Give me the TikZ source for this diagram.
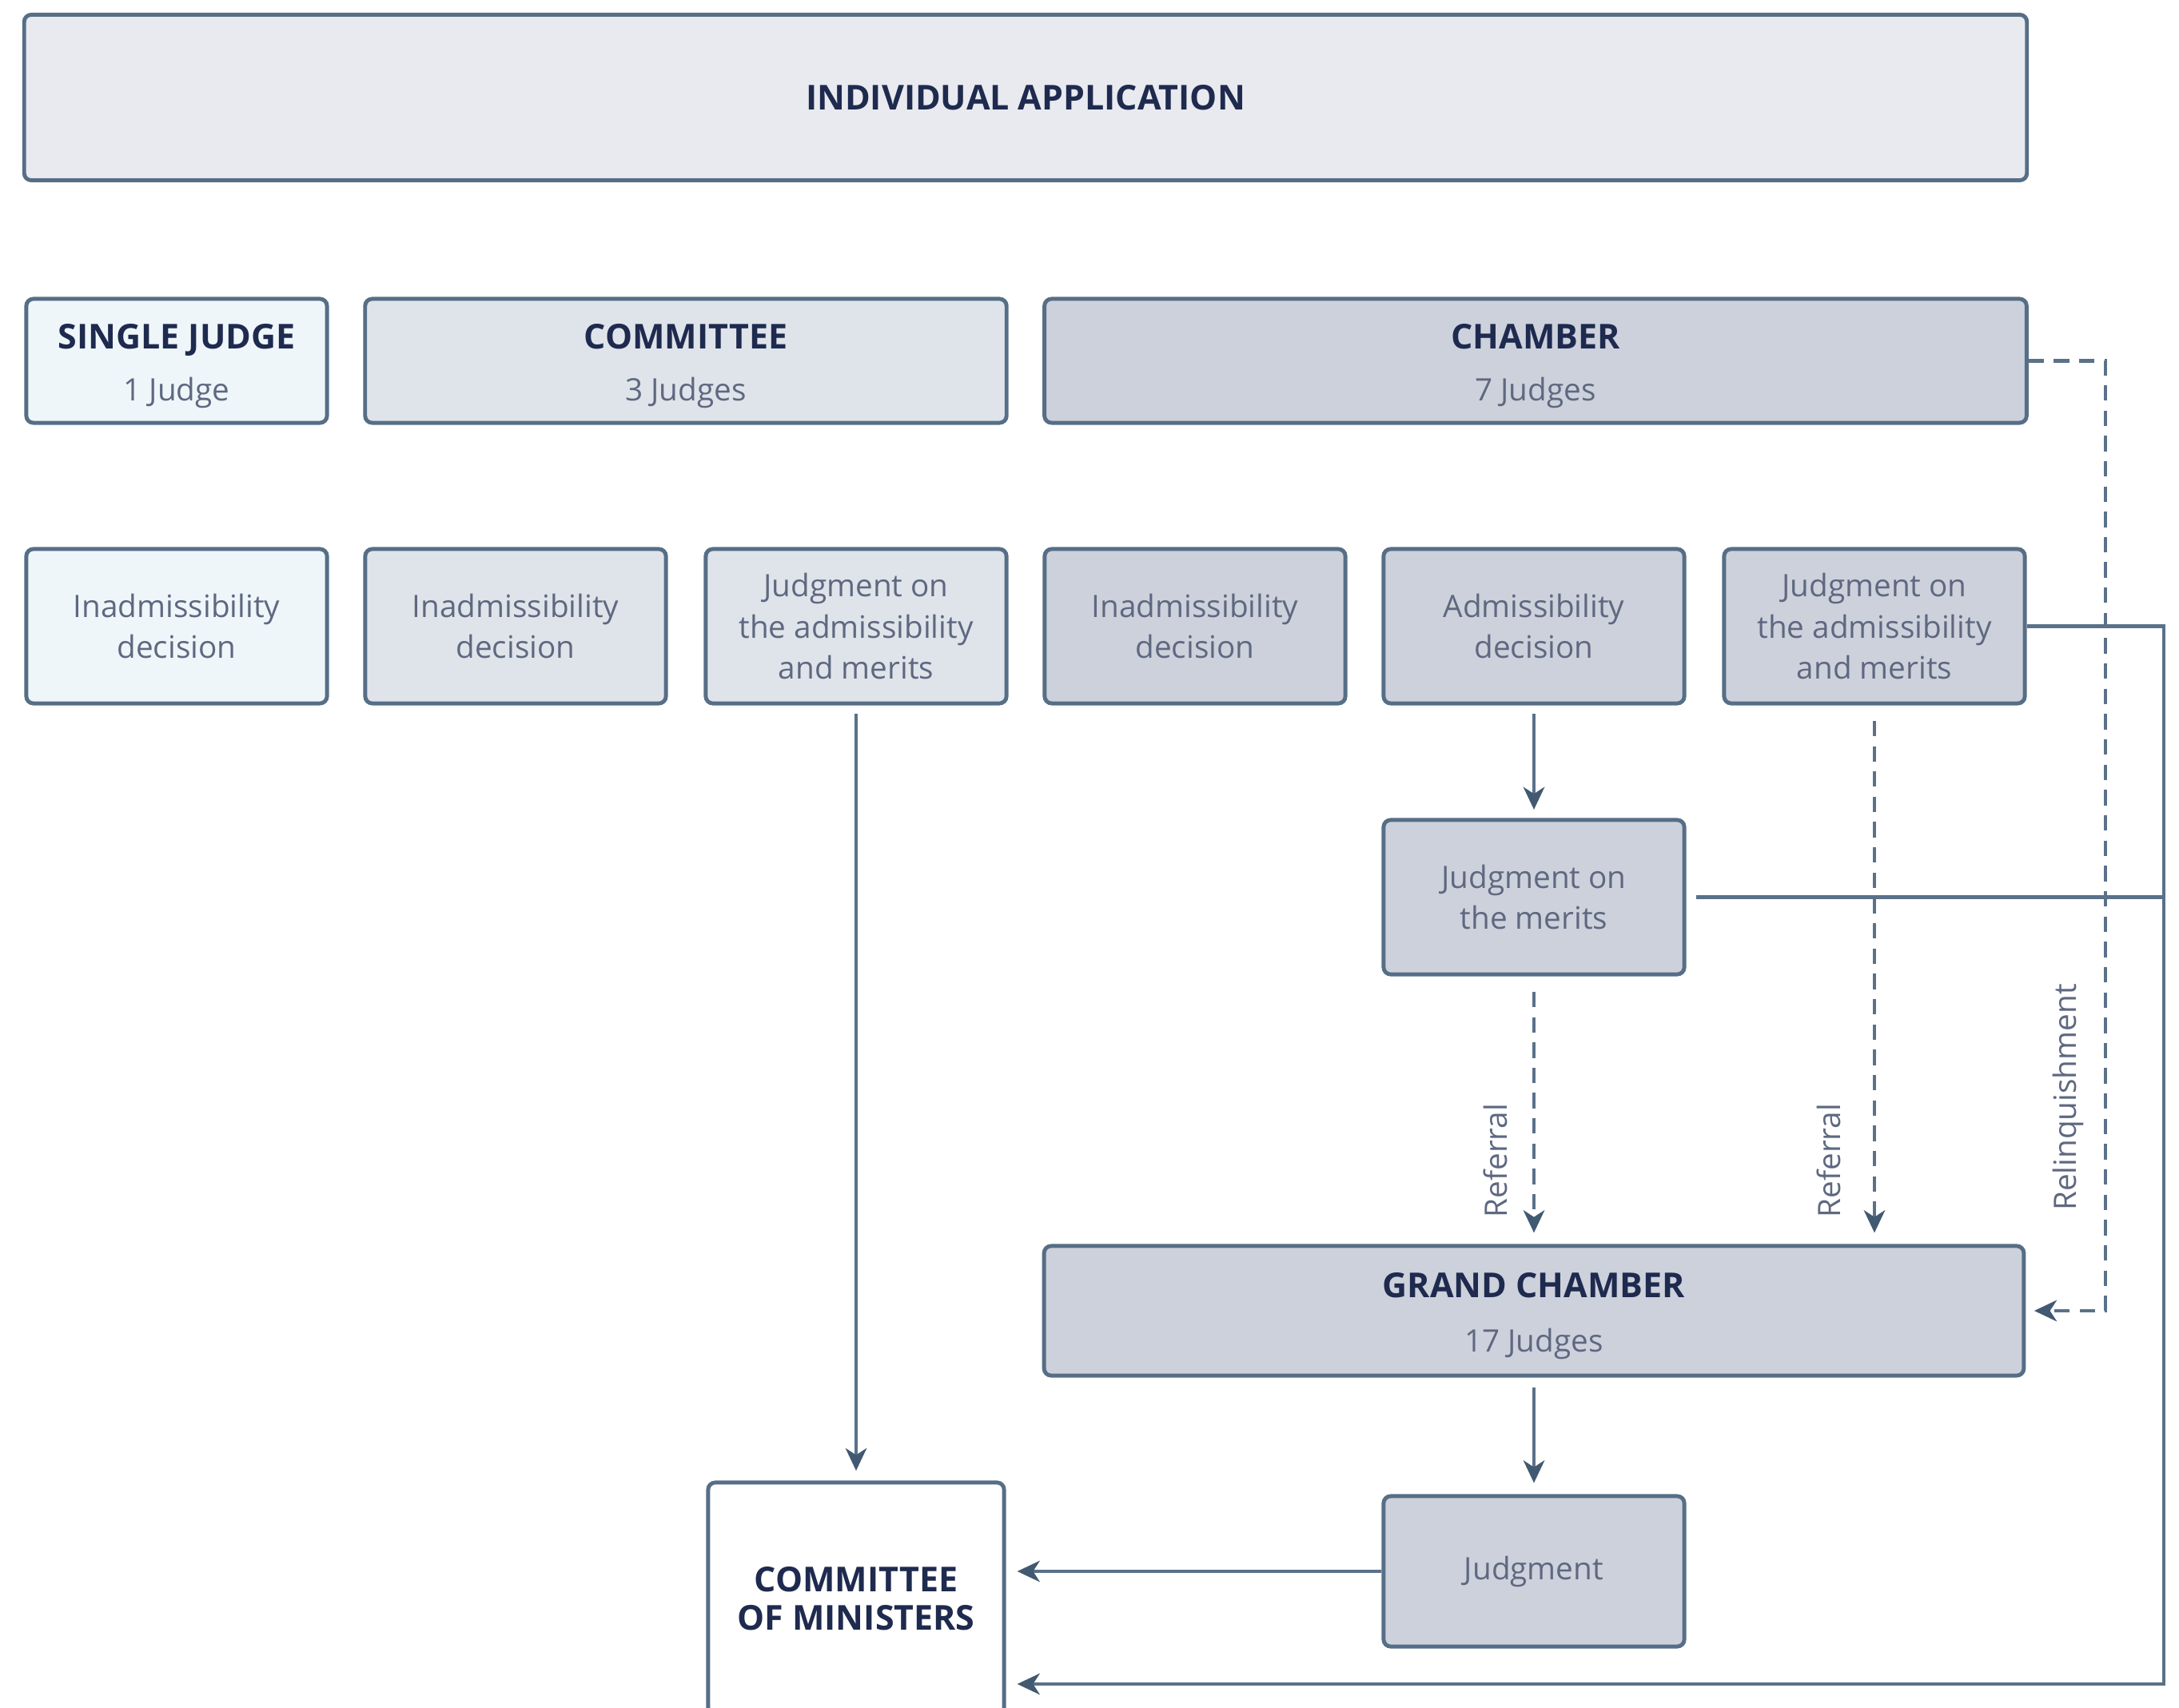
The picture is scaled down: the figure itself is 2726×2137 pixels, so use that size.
\documentclass[tikz,border=0pt]{standalone}
\usepackage{fontspec}
\setmainfont{Open Sans}
\usetikzlibrary{arrows.meta}
\definecolor{bord}{HTML}{566E86}
\definecolor{linec}{HTML}{5A7189}
\definecolor{tipc}{HTML}{415A72}
\definecolor{titletxt}{HTML}{1E2A4E}
\definecolor{subtxt}{HTML}{5E6880}
\definecolor{fillapp}{HTML}{E8EAEF}
\definecolor{fillsingle}{HTML}{EEF6FA}
\definecolor{fillcomm}{HTML}{DFE4EA}
\definecolor{fillcham}{HTML}{CDD1DC}
\newcommand{\ttl}[1]{{\bfseries\fontsize{12.2}{14}\selectfont\color{titletxt}\rule{0pt}{12.6pt}#1}}
\begin{document}
\begin{tikzpicture}[x=0.01cm,y=-0.01cm,
  box/.style={draw=bord, line width=1.4pt, rounded corners=2.5pt, inner sep=0pt,
    align=center, text=subtxt, font=\fontsize{11}{14.6}\selectfont},
  smallbox/.style={box, minimum width=3.76cm, minimum height=1.93cm},
  titlebox/.style={box, minimum height=1.55cm},
  conn/.style={draw=linec, line width=1.3pt},
  tip/.style={-{Stealth[length=8pt,width=7.5pt,inset=2.4pt,color=tipc]}},
  dconn/.style={conn, dash pattern=on 5.5pt off 3.5pt},
  lbl/.style={text=subtxt, font=\fontsize{11}{13}\selectfont, inner sep=0pt, rotate=90}
]
\useasboundingbox (0,0) rectangle (2726,2137);

% top
\node[box, fill=fillapp, minimum width=25.04cm, minimum height=2.07cm,
  font=\bfseries\fontsize{12.2}{14}\selectfont, text=titletxt] (app) at (1283,122) {INDIVIDUAL APPLICATION};

% formations
\node[titlebox, fill=fillsingle, minimum width=3.76cm] (single) at (221,451.5)
  {\ttl{SINGLE JUDGE}\\[3.8pt]1 Judge};
\node[titlebox, fill=fillcomm, minimum width=8.02cm] (comm) at (858,451.5)
  {\ttl{COMMITTEE}\\[3.8pt]3 Judges};
\node[titlebox, fill=fillcham, minimum width=12.28cm] (cham) at (1921,451.5)
  {\ttl{CHAMBER}\\[3.8pt]7 Judges};

% decisions
\node[smallbox, fill=fillsingle] (b1) at (221,783.5) {Inadmissibility\\decision};
\node[smallbox, fill=fillcomm] (b2) at (645,783.5) {Inadmissibility\\decision};
\node[smallbox, fill=fillcomm] (b3) at (1071,783.5) {Judgment on\\the admissibility\\and merits};
\node[smallbox, fill=fillcham] (b4) at (1495,783.5) {Inadmissibility\\decision};
\node[smallbox, fill=fillcham] (b5) at (1919,783.5) {Admissibility\\decision};
\node[smallbox, fill=fillcham] (b6) at (2345,783.5) {Judgment on\\the admissibility\\and merits};

\node[smallbox, fill=fillcham] (jom) at (1919,1122.5) {Judgment on\\the merits};

\node[box, fill=fillcham, minimum width=12.25cm, minimum height=1.62cm] (gc) at (1919,1640)
  {\ttl{GRAND CHAMBER}\\[5pt]17 Judges};

\node[smallbox, fill=fillcham, minimum height=1.88cm] (jud) at (1919,1966) {Judgment};

\node[box, fill=white, minimum width=3.70cm, minimum height=2.90cm,
  font=\bfseries\fontsize{12.2}{13.6}\selectfont, text=titletxt] (com) at (1071,2000)
  {COMMITTEE\\OF MINISTERS};

% helper coordinates
\coordinate (r1) at (2634,451.5);
\coordinate (r2) at (2634,1640);
\coordinate (s1) at (2707,783.5);
\coordinate (s2) at (2707,2107);

% connectors
\draw[conn, tip, shorten <=3pt, shorten >=3.5pt] (b3) -- (com);
\draw[conn, tip, shorten <=3pt, shorten >=3pt] (b5) -- (jom);
\draw[dconn, tip, shorten <=5.5pt, shorten >=4pt] (jom) -- (jom |- gc.north);
\draw[dconn, tip, shorten <=5.5pt, shorten >=4pt] (b6) -- (b6 |- gc.north);
\draw[dconn, tip, shorten >=3pt] (cham.east) -- (r1) -- (r2) -- (gc.east);
\draw[conn, tip, shorten >=4pt] (b6.east) -- (s1) -- (s2) -- (com.east |- s2);
\draw[conn, shorten <=3.5pt] (jom.east) -- (jom.east -| s1);
\draw[conn, tip, shorten <=3.5pt, shorten >=4pt] (gc) -- (jud);
\draw[conn, tip, shorten >=4pt] (jud.west) -- (jud.west -| com.east);

% labels
\node[lbl] (lref1) at (1871,1452) {Referral};
\node[lbl] (lref2) at (2288,1452) {Referral};
\node[lbl] (lrel) at (2587,1373) {Relinquishment};
\end{tikzpicture}
\end{document}
